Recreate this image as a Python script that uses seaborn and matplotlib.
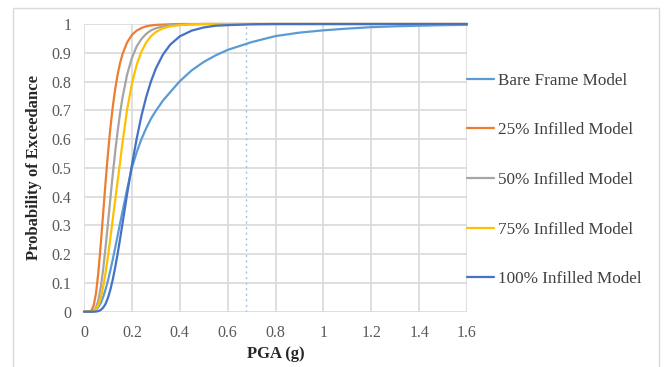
import pandas as pd
import seaborn as sns
from matplotlib import pyplot as plt
from matplotlib.patches import Rectangle

pga = [0, 0.02, 0.03, 0.04, 0.05, 0.06, 0.07, 0.08, 0.09, 0.10,
       0.11, 0.12, 0.13, 0.14, 0.15, 0.16, 0.18, 0.20, 0.22, 0.24,
       0.26, 0.28, 0.30, 0.33, 0.36, 0.40, 0.45, 0.50, 0.55, 0.60,
       0.70, 0.80, 0.90, 1.0, 1.1, 1.2, 1.3, 1.4, 1.5, 1.6]

bare_frame = [0, 0, 0.0005, 0.002, 0.007, 0.016, 0.030, 0.051, 0.077, 0.108,
              0.143, 0.181, 0.221, 0.262, 0.304, 0.345, 0.425, 0.500, 0.554, 0.600,
              0.638, 0.671, 0.698, 0.734, 0.763, 0.801, 0.839, 0.868, 0.891, 0.910,
              0.937, 0.958, 0.970, 0.978, 0.984, 0.989, 0.992, 0.994, 0.996, 0.997]
infill_25 = [0, 0, 0.003, 0.020, 0.063, 0.137, 0.234, 0.341, 0.449, 0.549,
             0.637, 0.711, 0.772, 0.822, 0.862, 0.893, 0.936, 0.962, 0.977, 0.986,
             0.992, 0.995, 0.997, 0.998, 0.999, 1, 1, 1, 1, 1,
             1, 1, 1, 1, 1, 1, 1, 1, 1, 1]
infill_50 = [0, 0, 0, 0.003, 0.014, 0.040, 0.085, 0.147, 0.223, 0.307,
             0.392, 0.476, 0.554, 0.624, 0.686, 0.740, 0.824, 0.882, 0.922, 0.948,
             0.966, 0.978, 0.985, 0.992, 0.996, 0.998, 0.999, 1, 1, 1,
             1, 1, 1, 1, 1, 1, 1, 1, 1, 1]
infill_75 = [0, 0, 0, 0.002, 0.008, 0.022, 0.048, 0.086, 0.135, 0.192,
             0.255, 0.321, 0.386, 0.451, 0.514, 0.583, 0.702, 0.792, 0.858, 0.904,
             0.936, 0.958, 0.972, 0.985, 0.992, 0.996, 0.999, 1, 1, 1,
             1, 1, 1, 1, 1, 1, 1, 1, 1, 1]
infill_100 = [0, 0, 0, 0, 0.0005, 0.002, 0.006, 0.014, 0.027, 0.048,
              0.076, 0.111, 0.153, 0.199, 0.249, 0.302, 0.408, 0.510, 0.601, 0.681,
              0.747, 0.801, 0.845, 0.894, 0.928, 0.957, 0.977, 0.988, 0.994, 0.996,
              0.999, 1, 1, 1, 1, 1, 1, 1, 1, 1]

models = ["Bare Frame Model", "25% Infilled Model", "50% Infilled Model",
          "75% Infilled Model", "100% Infilled Model"]
colors = ["#5B9BD5", "#ED7D31", "#A5A5A5", "#FFC000", "#4472C4"]

x_ticks = [0, 0.2, 0.4, 0.6, 0.8, 1.0, 1.2, 1.4, 1.6]
x_tick_labels = ["0", "0.2", "0.4", "0.6", "0.8", "1", "1.2", "1.4", "1.6"]
y_ticks = [0, 0.1, 0.2, 0.3, 0.4, 0.5, 0.6, 0.7, 0.8, 0.9, 1.0]
y_tick_labels = ["0", "0.1", "0.2", "0.3", "0.4", "0.5", "0.6", "0.7", "0.8", "0.9", "1"]

marker_pga = 0.677  # dotted reference line

curves = [bare_frame, infill_25, infill_50, infill_75, infill_100]
df = pd.concat(
    [pd.DataFrame({"PGA": pga, "P": vals, "Model": name}) for name, vals in zip(models, curves)],
    ignore_index=True,
)

sns.set_style("white")
plt.rcParams["font.family"] = ["Liberation Serif", "DejaVu Serif"]

fig = plt.figure(figsize=(6.65, 3.67), dpi=100)
ax = fig.add_axes([84 / 665, 1 - 311.7 / 367, (467 - 84) / 665, (311.7 - 24) / 367])

sns.lineplot(data=df, x="PGA", y="P", hue="Model", hue_order=models,
             palette=colors, linewidth=1.6, ax=ax, sort=False, estimator=None)
for line in ax.lines:
    line.set_clip_on(False)
    line.set_zorder(3)

ax.axvline(marker_pga, color="#9DC3E6", linestyle=(0, (1.5, 2.5)), linewidth=1.0, zorder=2)

ax.set_xlim(0, 1.6)
ax.set_ylim(0, 1)
ax.set_xticks(x_ticks)
ax.set_xticklabels(x_tick_labels)
ax.set_yticks(y_ticks)
ax.set_yticklabels(y_tick_labels)
ax.tick_params(axis="x", length=0, labelsize=11.5, colors="#595959", pad=9.5)
ax.tick_params(axis="y", length=0, labelsize=11.5, colors="#595959", pad=9)
ax.grid(True, color="#d9d9d9", linewidth=1.2)
ax.set_axisbelow(True)
for s in ax.spines.values():
    s.set_visible(False)

ax.set_xlabel("PGA (g)", fontsize=12, fontweight="bold", color="#262626", labelpad=4)
ax.set_ylabel("Probability of Exceedance", fontsize=12, fontweight="bold", color="#262626", labelpad=7)

leg = ax.legend(loc="upper left", bbox_to_anchor=(1.0, 0.831), frameon=False,
                fontsize=12.3, handlelength=1.6, handletextpad=0.2,
                labelspacing=1.97, borderaxespad=0, borderpad=0)
for t in leg.get_texts():
    t.set_color("#404040")

fig.patches.append(Rectangle((13 / 665, -0.05), (659 - 13) / 665, 1.05 - 8 / 367,
                             transform=fig.transFigure, fill=False,
                             edgecolor="#d9d9d9", linewidth=1.0))

fig.savefig("out.png", dpi=100)
